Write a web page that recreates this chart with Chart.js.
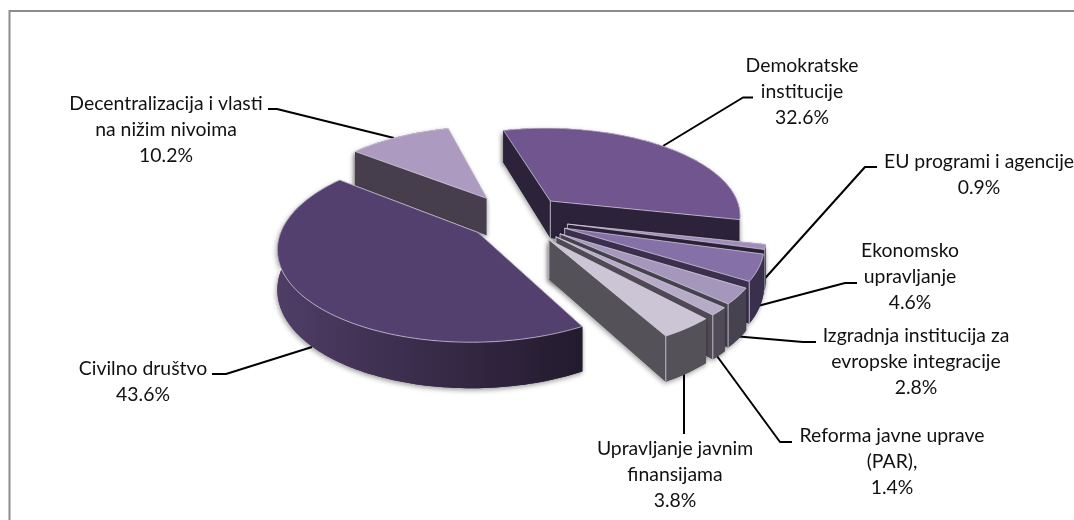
<!DOCTYPE html>
<html><head><meta charset="utf-8">
<style>html,body{margin:0;padding:0;background:#fff}#w{position:relative;width:1074px;height:520px;overflow:hidden}canvas{display:block}</style>
<script src="https://cdn.jsdelivr.net/npm/chart.js@4"></script>
</head><body><div id="w"><canvas id="c" width="1074" height="520"></canvas></div>
<script>
const categories=["Demokratske institucije","EU programi i agencije","Ekonomsko upravljanje","Izgradnja institucija za evropske integracije","Reforma javne uprave (PAR),","Upravljanje javnim finansijama","Civilno društvo","Decentralizacija i vlasti na nižim nivoima"];
const shares=[32.6,0.9,4.6,2.8,1.4,3.8,43.6,10.2];
const tickLabels=["32.6%","0.9%","4.6%","2.8%","1.4%","3.8%","43.6%","10.2%"];
const explode=[62,63,63,65,66,66,56,62];
const topColors=["#70558e","#a08cb9","#8670a8","#a596bb","#b7abc8","#cbc5d5","#54406f","#ac9ac0"];
const wallLeft=["#2c2239","#2b2138","#3b2f4e","#464250","#4f4a55","#545158","#4f3d66","#463e4c"];
const wallRight=["#2c2239","#2b2138","#3b2f4e","#464250","#4f4a55","#545158","#221a2d","#463e4c"];
const labelLines=[["Demokratske","institucije"],["EU programi i agencije"],["Ekonomsko","upravljanje"],["Izgradnja institucija za","evropske integracije"],["Reforma javne uprave","(PAR),"],["Upravljanje javnim","finansijama"],["Civilno društvo"],["Decentralizacija i vlasti","na nižim nivoima"]];
const labelCenters=[[802,72],[979,168],[910,257],[916,342],[892,442],[675,455],[143,375],[166,110]];
const leaders=[[[753,97.5],[743,97.5],[663,146]],[[877,167],[865,167],[759,285]],[[857,283],[845,283],[754,307]],[[816,342],[803,342],[733,336]],[[792,442],[780,442],[714,352]],[[684,434],[684,369]],[[212,374],[226,374],[312,347]],[[268,109],[277,109],[394,138]]];
const view={cx:515,cy:218,bx:192.5,by:88.5,k:0.15,h:38,lh:26,font:'19.4px Lato, "Open Sans", sans-serif'};

function project(X,Y){const d=1-view.k*Y;return{x:view.cx+view.bx*X/d,y:view.cy+view.by*Y/d,h:view.h/d};}

const pie3d={id:'pie3d',
 beforeDatasetDraw(){return false;},
 afterDatasetsDraw(chart){
  const ctx=chart.ctx,meta=chart.getDatasetMeta(0);
  ctx.save();ctx.strokeStyle='#8c8c8c';ctx.lineWidth=2;ctx.beginPath();ctx.moveTo(9.5,522);ctx.lineTo(9.5,11);ctx.lineTo(1076,11);ctx.stroke();ctx.restore();
  ctx.save();ctx.strokeStyle='#000';ctx.lineWidth=2;ctx.lineJoin='round';
  leaders.forEach(l=>{ctx.beginPath();l.forEach((p,i)=>i?ctx.lineTo(p[0],p[1]):ctx.moveTo(p[0],p[1]));ctx.stroke();});
  ctx.restore();
  const slices=meta.data.map((arc,i)=>{
   const p=arc.getProps(['startAngle','endAngle','outerRadius']);
   const R=p.outerRadius,mid=(p.startAngle+p.endAngle)/2,off=arc.options.offset/R;
   const ox=Math.cos(mid)*off,oy=Math.sin(mid)*off;
   const n=Math.max(4,Math.ceil((p.endAngle-p.startAngle)*40)),rim=[];
   for(let j=0;j<=n;j++){const a=p.startAngle+(p.endAngle-p.startAngle)*j/n;rim.push(project(ox+Math.cos(a),oy+Math.sin(a)));}
   return{i,mid,apex:project(ox,oy),rim};
  }).sort((a,b)=>Math.sin(a.mid)-Math.sin(b.mid));
  const poly=pts=>{ctx.beginPath();pts.forEach((p,i)=>i?ctx.lineTo(p[0],p[1]):ctx.moveTo(p[0],p[1]));ctx.closePath();};
  slices.forEach(s=>{
   const {apex,rim,i}=s,a=rim[0],b=rim[rim.length-1];
   const xs=rim.map(p=>p.x),g=ctx.createLinearGradient(Math.min(...xs),0,Math.max(...xs),0);
   g.addColorStop(0,wallLeft[i]);g.addColorStop(1,wallRight[i]);
   const faces=()=>{
    [a,b].forEach(c=>{poly([[apex.x,apex.y],[c.x,c.y],[c.x,c.y+c.h],[apex.x,apex.y+apex.h]]);ctx.fill();});
    poly(rim.map(p=>[p.x,p.y]).concat(rim.slice().reverse().map(p=>[p.x,p.y+p.h])));ctx.fill();
   };
   ctx.save();
   ctx.fillStyle=g;
   ctx.shadowColor='rgba(0,0,0,.38)';ctx.shadowBlur=5;ctx.shadowOffsetX=-1;ctx.shadowOffsetY=2;
   faces();
   ctx.shadowColor='transparent';
   faces();
   ctx.restore();
   ctx.save();ctx.strokeStyle='rgba(222,218,230,.8)';ctx.lineWidth=1;
   [apex,b].forEach(c=>{ctx.beginPath();ctx.moveTo(c.x,c.y);ctx.lineTo(c.x,c.y+c.h);ctx.stroke();});
   ctx.restore();
   ctx.save();
   poly([[apex.x,apex.y]].concat(rim.map(p=>[p.x,p.y])));
   ctx.fillStyle=topColors[i];ctx.fill();
   ctx.strokeStyle='rgba(222,218,230,.75)';ctx.lineWidth=.9;ctx.stroke();
   ctx.restore();
  });
  ctx.save();ctx.fillStyle='#111';ctx.font=view.font;ctx.textAlign='center';ctx.textBaseline='alphabetic';
  categories.forEach((c,i)=>{
   const [x,y]=labelCenters[i];
   labelLines[i].concat([tickLabels[i]]).forEach((t,j)=>ctx.fillText(t,x,y+j*view.lh));
  });
  ctx.restore();
 }};

new Chart(document.getElementById('c'),{
 type:'pie',
 data:{labels:categories,datasets:[{data:shares,backgroundColor:topColors,borderWidth:0,offset:explode}]},
 options:{responsive:false,animation:false,rotation:-15,layout:{padding:0},plugins:{legend:{display:false},tooltip:{enabled:false}}},
 plugins:[pie3d]
});
</script></body></html>
